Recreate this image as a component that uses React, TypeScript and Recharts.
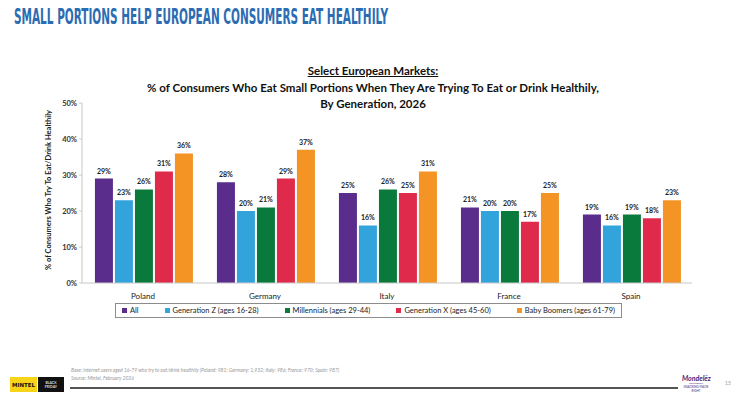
import React from 'react';
import { BarChart, Bar, XAxis, YAxis, LabelList, Legend } from 'recharts';

const markets = ['Poland', 'Germany', 'Italy', 'France', 'Spain'];
const allConsumers = [29, 28, 25, 21, 19];
const generationZ = [23, 20, 16, 20, 16];
const millennials = [26, 21, 26, 20, 19];
const generationX = [31, 29, 25, 17, 18];
const babyBoomers = [36, 37, 31, 25, 23];
const yTicks = [0, 10, 20, 30, 40, 50];

const series = [
  { key: 'all', name: 'All', color: '#5a2d8c', values: allConsumers },
  { key: 'genz', name: 'Generation Z (ages 16-28)', color: '#33a3dc', values: generationZ },
  { key: 'mill', name: 'Millennials (ages 29-44)', color: '#0a7a3c', values: millennials },
  { key: 'genx', name: 'Generation X (ages 45-60)', color: '#df2a4c', values: generationX },
  { key: 'boom', name: 'Baby Boomers (ages 61-79)', color: '#f39424', values: babyBoomers },
];

const chartData = markets.map((m, i) => {
  const row: Record<string, string | number> = { market: m };
  series.forEach(s => { row[s.key] = s.values[i]; });
  return row;
});

const FONT = 'Lato, "Open Sans", sans-serif';

function LegendBox() {
  return (
    <div style={{
      border: '1px solid #8c8c8c', height: 15, boxSizing: 'border-box',
      display: 'flex', alignItems: 'center', justifyContent: 'center', gap: 26,
      fontFamily: FONT, fontSize: 7.5, color: '#222',
    }}>
      {series.map(s => (
        <div key={s.key} style={{ display: 'flex', alignItems: 'center', whiteSpace: 'nowrap' }}>
          <span style={{ width: 5, height: 5, background: s.color, marginRight: 3, display: 'inline-block' }} />
          {s.name}
        </div>
      ))}
    </div>
  );
}

export default function App() {
  return (
    <div style={{ position: 'relative', width: 740, height: 400, background: '#fff', overflow: 'hidden' }}>
      <style>{'body{margin:0}'}</style>

      {/* slide header, squeezed to the condensed headline width */}
      <svg style={{ position: 'absolute', left: 0, top: 0 }} width={740} height={30}>
        <text
          x={14}
          y={24}
          textLength={374}
          lengthAdjust="spacingAndGlyphs"
          fontFamily='"DejaVu Sans Condensed", "Liberation Sans Narrow", sans-serif'
          fontWeight={700}
          fontSize={21}
          fill="#2b6cb2"
        >
          SMALL PORTIONS HELP EUROPEAN CONSUMERS EAT HEALTHILY
        </text>
      </svg>

      <div style={{
        position: 'absolute', left: 0, top: 63, width: 746, textAlign: 'center',
        fontFamily: FONT, fontWeight: 700, fontSize: 11.5, lineHeight: '16.5px', color: '#111',
      }}>
        <div style={{ textDecoration: 'underline' }}>Select European Markets:</div>
        <div>% of Consumers Who Eat Small Portions When They Are Trying To Eat or Drink Healthily,</div>
        <div>By Generation, 2026</div>
      </div>

      <div style={{
        position: 'absolute', left: 48, top: 190, transform: 'translate(-50%, -50%) rotate(-90deg)',
        fontFamily: FONT, fontWeight: 700, fontSize: 7.5, color: '#222', whiteSpace: 'nowrap',
      }}>
        % of Consumers Who Try To Eat/Drink Healthily
      </div>

      <div style={{ position: 'absolute', left: 0, top: 0 }}>
        <BarChart
          width={740}
          height={400}
          data={chartData}
          margin={{ top: 103, right: 48, bottom: 87, left: 52 }}
          barCategoryGap="10.6%"
          barGap={2}
        >
          <XAxis
            dataKey="market"
            height={30}
            axisLine={{ stroke: '#c8c8c8' }}
            tickLine={false}
            tick={{ fontFamily: FONT, fontSize: 8, fill: '#222' }}
            tickMargin={4}
          />
          <YAxis
            width={30}
            domain={[0, 50]}
            ticks={yTicks}
            tickFormatter={(v: number) => `${v}%`}
            axisLine={{ stroke: '#c8c8c8' }}
            tickLine={{ stroke: '#c8c8c8' }}
            tickSize={3}
            tick={{ fontFamily: FONT, fontSize: 7.5, fontWeight: 700, fill: '#333' }}
          />
          <Legend
            layout="horizontal"
            verticalAlign="middle"
            align="center"
            wrapperStyle={{ top: 303, left: 115, width: 507 }}
            content={() => <LegendBox />}
          />
          {series.map(s => (
            <Bar key={s.key} dataKey={s.key} name={s.name} fill={s.color} isAnimationActive={false}>
              <LabelList
                dataKey={s.key}
                position="top"
                offset={5}
                formatter={(v: number) => `${v}%`}
                style={{ fontFamily: FONT, fontSize: 7, fontWeight: 700, fill: '#222' }}
              />
            </Bar>
          ))}
        </BarChart>
      </div>

      {/* footer */}
      <div style={{
        position: 'absolute', left: 71, top: 366, fontFamily: FONT, fontStyle: 'italic',
        fontSize: 5, lineHeight: '8px', color: '#999',
      }}>
        <div>Base: internet users aged 16-79 who try to eat/drink healthily (Poland: 981; Germany: 1,932; Italy: 986; France: 970; Spain: 987)</div>
        <div>Source: Mintel, February 2026</div>
      </div>
      <div style={{ position: 'absolute', left: 70, top: 387, width: 608, height: 2, background: '#555' }} />
      <div style={{
        position: 'absolute', left: 10, top: 377, width: 27, height: 15, background: '#f7d417',
        fontFamily: '"DejaVu Sans", sans-serif', fontWeight: 700, fontSize: 5.5, color: '#111',
        display: 'flex', alignItems: 'center', justifyContent: 'center',
      }}>MINTEL</div>
      <div style={{
        position: 'absolute', left: 38, top: 377, width: 26, height: 15, background: '#111',
        fontFamily: FONT, fontWeight: 700, fontSize: 3.5, color: '#ddd', lineHeight: '4px',
        display: 'flex', flexDirection: 'column', alignItems: 'center', justifyContent: 'center',
      }}>
        <span>BLACK</span><span>FRIDAY</span>
      </div>
      <div style={{
        position: 'absolute', left: 682, top: 374, width: 28, textAlign: 'center',
        fontFamily: FONT, color: '#4b2a7b',
      }}>
        <div style={{ fontSize: 7, fontWeight: 700, fontStyle: 'italic', lineHeight: '8px' }}>Mondelēz</div>
        <div style={{ fontSize: 2.5, lineHeight: '3px' }}>International</div>
        <div style={{ fontSize: 3, lineHeight: '4px' }}>SNACKING MADE RIGHT</div>
      </div>
      <div style={{
        position: 'absolute', left: 725, top: 380, fontFamily: FONT, fontSize: 5, color: '#999',
      }}>15</div>
    </div>
  );
}
